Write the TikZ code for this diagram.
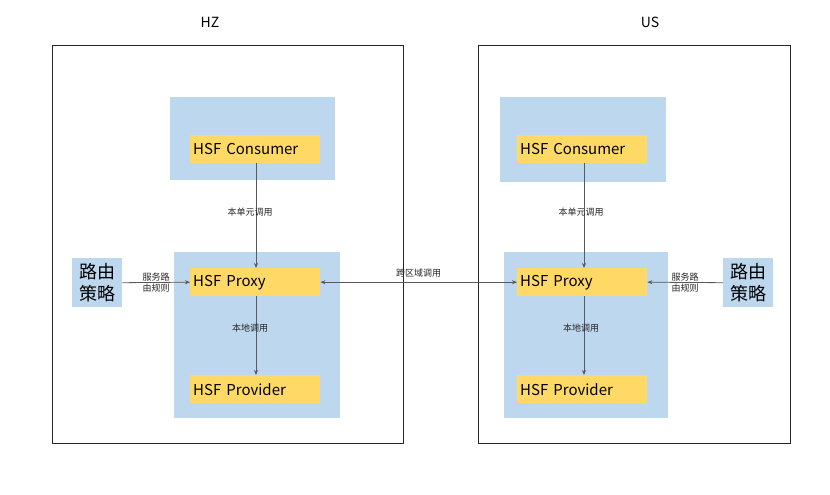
\documentclass[tikz,border=0pt]{standalone}
\usepackage{fontspec}
\setmainfont{Noto Sans CJK SC}
\usetikzlibrary{arrows.meta}
\definecolor{regionblue}{HTML}{BDD7EE}
\definecolor{svcyellow}{HTML}{FFD966}
\definecolor{linkgray}{HTML}{595959}

\begin{document}
\begin{tikzpicture}[x=1pt, y=-1pt,
    >={Stealth[length=5pt,width=4pt]},
    zone/.style={draw=black!85, line width=1pt, anchor=north west, inner sep=0pt},
    region/.style={fill=regionblue, anchor=north west, inner sep=0pt},
    svc/.style={fill=svcyellow, anchor=north west, minimum height=28pt, text width=124pt,
        inner xsep=3pt, inner ysep=0pt, align=left, font=\fontsize{15}{16}\selectfont},
    rule/.style={fill=regionblue, anchor=north west, minimum width=50pt, minimum height=49pt,
        inner sep=0pt, align=center, font=\fontsize{18}{22}\selectfont},
    link/.style={draw=linkgray, line width=0.8pt, ->},
    lbl/.style={font=\fontsize{9}{10.5}\selectfont, text=black!85, align=center, inner sep=1pt}]
    \useasboundingbox (0,0) rectangle (830,495);

    % zones
    \node[zone, minimum width=351pt, minimum height=398pt] (hz) at (52,45) {};
    \node[zone, minimum width=312pt, minimum height=398pt] (us) at (478,45) {};
    \node[font=\fontsize{14}{16}\selectfont] (hzname) at (210,22) {HZ};
    \node[font=\fontsize{14}{16}\selectfont] (usname) at (650,22) {US};

    % HZ
    \node[region, minimum width=165pt, minimum height=83pt] (hzconsbg) at (170,97) {};
    \node[region, minimum width=166pt, minimum height=166pt] (hzprovbg) at (174,252) {};
    \node[svc] (hzcons) at (190,135) {HSF Consumer};
    \node[svc] (hzproxy) at (190,268) {HSF Proxy};
    \node[svc] (hzprov) at (190,375) {HSF Provider};
    \node[rule] (hzrule) at (72,258) {路由\\策略};

    % US
    \node[region, minimum width=166pt, minimum height=85pt] (usconsbg) at (500,97) {};
    \node[region, minimum width=164pt, minimum height=166pt] (usprovbg) at (504,252) {};
    \node[svc] (uscons) at (517,135) {HSF Consumer};
    \node[svc] (usproxy) at (517,268) {HSF Proxy};
    \node[svc] (usprov) at (517,375) {HSF Provider};
    \node[rule] (usrule) at (723,258) {路由\\策略};

    % calls
    \draw[link] (hzcons.south -| 256,0) -- (hzproxy.north -| 256,0)
        node[lbl, pos=0.47, xshift=-6pt] {本单元调用};
    \draw[link] (hzproxy.south -| 256,0) -- (hzprov.north -| 256,0)
        node[lbl, pos=0.4, xshift=-6pt] {本地调用};
    \draw[link] (uscons.south -| 584,0) -- (usproxy.north -| 584,0)
        node[lbl, pos=0.47, xshift=-3pt] {本单元调用};
    \draw[link] (usproxy.south -| 584,0) -- (usprov.north -| 584,0)
        node[lbl, pos=0.4, xshift=-3pt] {本地调用};
    \draw[link] (hzrule.east) -- (hzproxy.west)
        node[lbl, midway] {服务路\\由规则};
    \draw[link] (usrule.west) -- (usproxy.east)
        node[lbl, midway] {服务路\\由规则};
    \draw[link, <->] (hzproxy.east) -- (usproxy.west)
        node[lbl, midway, above=4pt] {跨区域调用};
\end{tikzpicture}
\end{document}
